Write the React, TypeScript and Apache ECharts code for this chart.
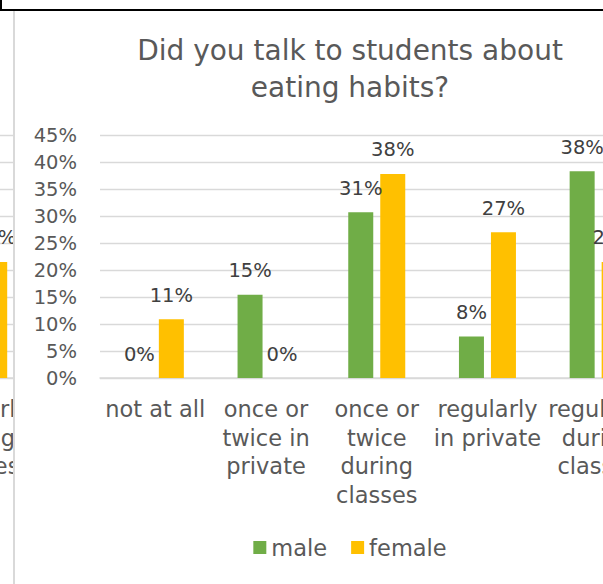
import React, { useEffect, useRef } from "react";
import * as echarts from "echarts";

const categories = [
  "not at all",
  "once or\ntwice in\nprivate",
  "once or\ntwice\nduring\nclasses",
  "regularly\nin private",
  "regularly\nduring\nclasses",
];
const maleValues = [0, 0.154, 0.307, 0.077, 0.383];
const femaleValues = [0.109, 0, 0.378, 0.27, 0.215];
const seriesNames = ["male", "female"];

// neighbouring chart, only its last category is visible at the left edge
const leftCategories = ["regularly\nduring\nclasses"];
const leftMaleValues: (number | null)[] = [null];
const leftFemaleValues = [0.215];

const GREEN = "#70AD47";
const YELLOW = "#FFC000";
const FONT = "DejaVu Sans";
const pct = (v: number) => Math.round(v * 100) + "%";

function baseOption(
  cats: string[],
  male: (number | null)[],
  female: (number | null)[],
  grid: any,
  showYLabels: boolean
) {
  const label = {
    show: true,
    position: "top" as const,
    distance: 14,
    fontFamily: FONT,
    fontSize: 19.5,
    color: "#404040",
    formatter: (p: any) => (p.value == null ? "" : pct(p.value)),
  };
  return {
    animation: false,
    textStyle: { fontFamily: FONT },
    grid,
    xAxis: {
      type: "category",
      data: cats,
      axisLine: { lineStyle: { color: "#d9d9d9", width: 1.5 } },
      axisTick: { show: false },
      axisLabel: {
        interval: 0,
        fontFamily: FONT,
        fontSize: 22.5,
        lineHeight: 28.5,
        color: "#595959",
        margin: 17,
      },
    },
    yAxis: {
      type: "value",
      min: 0,
      max: 0.45,
      interval: 0.05,
      axisLine: { show: false },
      axisTick: { show: false },
      splitLine: { lineStyle: { color: "#d9d9d9", width: 1.3 } },
      axisLabel: {
        show: showYLabels,
        fontFamily: FONT,
        fontSize: 19.5,
        color: "#595959",
        margin: 23,
        formatter: (v: number) => pct(v),
      },
    },
    series: [
      {
        name: seriesNames[0],
        type: "bar",
        data: male,
        barWidth: 25,
        barGap: "28%",
        itemStyle: { color: GREEN },
        label,
      },
      {
        name: seriesNames[1],
        type: "bar",
        data: female,
        barWidth: 25,
        barGap: "28%",
        itemStyle: { color: YELLOW },
        label,
      },
    ],
  };
}

export default function App() {
  const mainRef = useRef<HTMLDivElement>(null);
  const leftRef = useRef<HTMLDivElement>(null);

  useEffect(() => {
    const main = echarts.init(mainRef.current!, undefined, { renderer: "svg" });
    const opt: any = baseOption(
      categories,
      maleValues,
      femaleValues,
      { left: 85, right: 31.5, top: 124, bottom: 206 },
      true
    );
    opt.title = {
      text: "Did you talk to students about\neating habits?",
      left: "center",
      top: 20.5,
      padding: 0,
      textStyle: {
        fontFamily: FONT,
        fontSize: 28,
        fontWeight: "normal",
        color: "#595959",
        lineHeight: 37,
      },
    };
    opt.legend = {
      data: seriesNames,
      left: "center",
      top: 525,
      padding: 0,
      icon: "rect",
      itemWidth: 13,
      itemHeight: 13,
      itemGap: 24,
      textStyle: { fontFamily: FONT, fontSize: 22.5, color: "#595959" },
    };
    main.setOption(opt);

    const left = echarts.init(leftRef.current!, undefined, { renderer: "svg" });
    left.setOption(
      baseOption(
        leftCategories,
        leftMaleValues,
        leftFemaleValues,
        { left: 123.2, right: 25.8, top: 124, bottom: 206 },
        false
      )
    );
    return () => {
      main.dispose();
      left.dispose();
    };
  }, []);

  return (
    <div
      style={{
        position: "fixed",
        left: 0,
        top: 0,
        width: 603,
        height: 584,
        overflow: "hidden",
        background: "#fff",
      }}
    >
      <div style={{ position: "absolute", left: 0, top: 9, width: 603, height: 2, background: "#000" }} />
      <div style={{ position: "absolute", left: 0, top: 0, width: 2, height: 10, background: "#000" }} />
      <div style={{ position: "absolute", left: 0, top: 11, width: 13, height: 573, overflow: "hidden" }}>
        <div ref={leftRef} style={{ position: "absolute", left: -200, top: 0, width: 260, height: 573 }} />
      </div>
      <div style={{ position: "absolute", left: 13, top: 11, width: 2, height: 573, background: "#d9d9d9" }} />
      <div
        ref={mainRef}
        style={{ position: "absolute", left: 15, top: 11, width: 670, height: 573, background: "#fff" }}
      />
    </div>
  );
}
